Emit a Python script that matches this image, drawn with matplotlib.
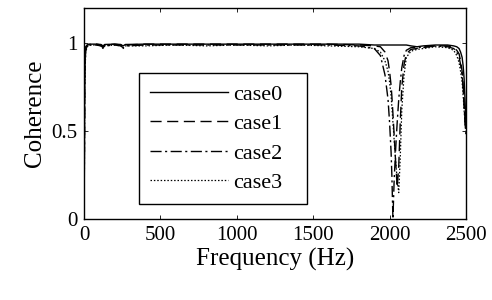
import matplotlib
matplotlib.use("Agg")
import matplotlib.pyplot as plt

plt.rcParams['font.family'] = ['Liberation Serif', 'DejaVu Serif']

freq = [0, 4, 10, 20, 40, 80, 110, 124, 135, 200, 240, 255, 270, 400, 600, 800, 1000,
        1200, 1400, 1600, 1800, 1900, 1940, 1970, 1990, 2000, 2010, 2015, 2022, 2030,
        2040, 2050, 2060, 2070, 2080, 2095, 2110, 2140, 2180, 2220, 2300, 2380, 2420,
        2440, 2455, 2465, 2475, 2482, 2488, 2494, 2500]

case0 = [0.0, 0.90, 0.98, 0.99, 0.995, 0.995, 0.993, 0.985, 0.993, 0.995, 0.993, 0.985, 0.993,
         0.995, 0.995, 0.995, 0.995, 0.995, 0.995, 0.995, 0.995, 0.99, 0.99, 0.99, 0.99,
         0.99, 0.99, 0.99, 0.99, 0.99, 0.99, 0.99, 0.99, 0.99, 0.99, 0.99,
         0.99, 0.985, 0.98, 0.985, 0.99, 0.99, 0.985, 0.98, 0.97, 0.95, 0.92, 0.87, 0.80,
         0.68, 0.55]

case1 = [0.0, 0.85, 0.97, 0.99, 0.995, 0.995, 0.99, 0.98, 0.99, 0.995, 0.99, 0.98, 0.99,
         0.995, 0.995, 0.995, 0.995, 0.995, 0.995, 0.995, 0.99, 0.985, 0.98, 0.95, 0.90,
         0.84, 0.76, 0.70, 0.60, 0.48, 0.32, 0.18, 0.30, 0.55, 0.75, 0.88, 0.94, 0.965,
         0.97, 0.975, 0.985, 0.985, 0.975, 0.96, 0.94, 0.90, 0.84, 0.76, 0.66, 0.56, 0.50]

case2 = [0.0, 0.80, 0.96, 0.985, 0.99, 0.99, 0.985, 0.975, 0.985, 0.99, 0.985, 0.975, 0.985,
         0.99, 0.99, 0.99, 0.99, 0.99, 0.99, 0.99, 0.985, 0.97, 0.93, 0.82, 0.68, 0.55,
         0.38, 0.25, 0.0, 0.22, 0.40, 0.55, 0.68, 0.78, 0.86, 0.93, 0.96, 0.975, 0.975,
         0.98, 0.985, 0.98, 0.97, 0.95, 0.92, 0.88, 0.82, 0.74, 0.65, 0.55, 0.48]

case3 = [0.0, 0.75, 0.95, 0.98, 0.99, 0.99, 0.985, 0.97, 0.985, 0.99, 0.985, 0.97, 0.985,
         0.985, 0.99, 0.985, 0.99, 0.985, 0.99, 0.985, 0.98, 0.97, 0.95, 0.90, 0.84, 0.78,
         0.70, 0.64, 0.55, 0.45, 0.33, 0.22, 0.15, 0.35, 0.62, 0.82, 0.92, 0.955, 0.965,
         0.97, 0.98, 0.975, 0.96, 0.93, 0.89, 0.84, 0.78, 0.70, 0.62, 0.55, 0.50]

labels = ['case0', 'case1', 'case2', 'case3']
styles = ['-', (0, (8, 4)), (0, (8, 2.5, 1.5, 2.5)), (0, (1.2, 1.5))]
series = [case0, case1, case2, case3]
xticks = [0, 500, 1000, 1500, 2000, 2500]
yticks = [0, 0.5, 1]
ytick_labels = ['0', '0.5', '1']

fig = plt.figure(figsize=(4.92, 3.0), dpi=100)
ax = fig.add_axes([0.171, 0.27, 0.776, 0.703])

lws = [1.0, 1.0, 1.0, 0.9]
for y, ls, lab, lw in zip(series, styles, labels, lws):
    ax.plot(freq, y, color='black', linestyle=ls, linewidth=lw, label=lab)

ax.set_xlim(0, 2500)
ax.set_ylim(0, 1.2)
ax.set_xticks(xticks)
ax.set_yticks(yticks)
ax.set_yticklabels(ytick_labels)
ax.tick_params(direction='in', top=True, right=True, labelsize=15, length=3,
               width=0.6, pad=5)
for s in ax.spines.values():
    s.set_linewidth(1.0)
ax.set_xlabel('Frequency (Hz)', fontsize=18, labelpad=2)
ax.set_ylabel('Coherence', fontsize=18, labelpad=4)

leg = ax.legend(loc='upper left', bbox_to_anchor=(0.144, 0.0, 0.44, 0.692),
                mode='expand', fontsize=16,
                frameon=True, fancybox=False, edgecolor='black', framealpha=1,
                handlelength=3.5, handletextpad=0.25, labelspacing=0.4,
                borderpad=0.5, borderaxespad=0)
leg.get_frame().set_linewidth(1.0)

fig.savefig('out.png', dpi=100)
